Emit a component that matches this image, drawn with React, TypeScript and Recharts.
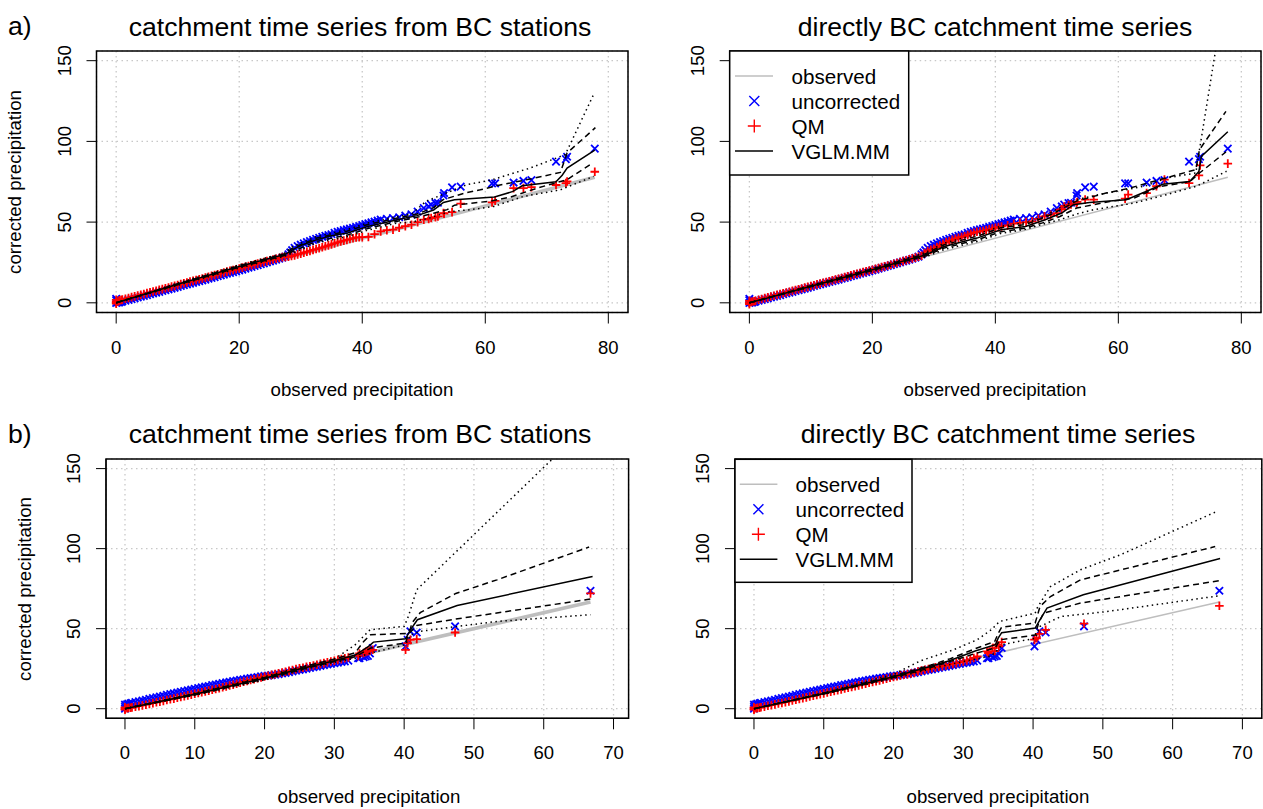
import React from "react";
import {
  ComposedChart,
  Line,
  Scatter,
  XAxis,
  YAxis,
  CartesianGrid,
  ReferenceArea,
} from "recharts";

type Pt = [number, number];

// ---- row a: observed vs corrected, x = observed quantile ----
const observedA: Pt[] = [[0, 0], [77.8, 77.8]];

const uncorrectedA: Pt[] = [
  [0, 0], [0, 1.5], [0, 2.5], [0.3, 0.2], [0.5, 0.3], [0.8, 0.6], [1, 0.8], [1.5, 1.3], [2, 1.8], [2.5, 2.3],
  [3, 2.8], [3.5, 3.3], [4, 3.8], [4.5, 4.3], [5, 4.8], [5.5, 5.3], [6, 5.8], [6.5, 6.3], [7, 6.8], [7.5, 7.3],
  [8, 7.8], [8.5, 8.3], [9, 8.8], [9.5, 9.3], [10, 9.8], [10.5, 10.4], [11, 10.9], [11.5, 11.4], [12, 11.9],
  [12.5, 12.4], [13, 12.9], [13.5, 13.4], [14, 13.9], [14.5, 14.4], [15, 14.9], [15.5, 15.4], [16, 15.9],
  [16.5, 16.5], [17, 17], [17.5, 17.5], [18, 18], [18.5, 18.5], [19, 19], [19.5, 19.5], [20, 20], [20.5, 20.6],
  [21, 21.1], [21.5, 21.7], [22, 22.2], [22.5, 22.8], [23, 23.3], [23.5, 23.9], [24, 24.4], [24.5, 25],
  [25, 25.6], [25.5, 26.1], [26, 26.7], [26.5, 27.3], [27, 27.9], [27.5, 28.6], [28, 30], [28.3, 31.2],
  [28.6, 32.6], [29, 34], [29.5, 35.2], [30, 36], [30.5, 36.8], [31, 37.6], [31.5, 38.3], [32, 39],
  [32.5, 39.6], [33, 40.2], [33.5, 40.9], [34, 41.5], [34.5, 42], [35, 42.5], [35.5, 43.3], [36, 44],
  [36.5, 44.5], [37, 45], [37.5, 45.5], [38, 46], [38.5, 46.5], [39, 47], [39.5, 47.6], [40, 48.2],
  [40.5, 48.8], [41, 49.3], [41.5, 49.8], [42, 50.3], [42.5, 51], [43, 51.5], [44, 52], [45, 52.5], [46, 53],
  [47, 54], [48, 54.8], [49, 56.5], [50, 58.7], [50.8, 59.7], [51.2, 60.8], [51.9, 61.8], [52.3, 62],
  [53.2, 66.5], [53.3, 68], [54.6, 71.5], [56, 72], [61.1, 74], [61.6, 74], [64.6, 74.5], [66.2, 75.5],
  [67.5, 76], [71.5, 87.5], [73.1, 89], [73.3, 90.5], [77.8, 95.5],
];

const qmStationsA: Pt[] = [
  [0, 0.5], [0, 1.8], [0, -0.5], [0.3, 0.8], [0.5, 1.5], [0.8, 1.7], [1, 2], [1.5, 2.5], [2, 3], [2.5, 3.5],
  [3, 4], [3.5, 4.5], [4, 5], [4.5, 5.5], [5, 6], [5.5, 6.5], [6, 7], [6.5, 7.5], [7, 8], [7.5, 8.5], [8, 9],
  [8.5, 9.5], [9, 10], [9.5, 10.5], [10, 11], [10.5, 11.6], [11, 12.1], [11.5, 12.6], [12, 13.1], [12.5, 13.6],
  [13, 14.1], [13.5, 14.6], [14, 15.1], [14.5, 15.6], [15, 16.1], [15.5, 16.7], [16, 17.2], [16.5, 17.7],
  [17, 18.2], [17.5, 18.8], [18, 19.3], [18.5, 19.8], [19, 20.3], [19.5, 20.8], [20, 21.3], [20.5, 21.8],
  [21, 22.3], [21.5, 22.8], [22, 23.3], [22.5, 23.8], [23, 24.3], [23.5, 24.8], [24, 25.3], [24.5, 25.8],
  [25, 26.3], [25.5, 26.8], [26, 27.3], [26.5, 27.8], [27, 28.3], [27.5, 28.4], [28, 28.5], [28.5, 29],
  [29, 29.4], [29.5, 30], [30, 30.5], [30.5, 31], [31, 31.6], [31.5, 32.2], [32, 32.8], [32.5, 33.3],
  [33, 33.8], [33.5, 34.4], [34, 35], [34.5, 35.6], [35, 36.2], [35.5, 36.8], [36, 37.5], [36.5, 38],
  [37, 38.5], [37.5, 39], [38, 39.5], [38.5, 40], [39, 40.5], [39.5, 40.6], [40, 40.7], [41, 40.8],
  [42, 42.5], [43, 44.2], [44, 45], [45, 45.3], [46, 46.5], [47, 47.5], [48, 48.4], [49, 50], [50, 51.5],
  [50.8, 52], [51.2, 52.5], [51.9, 53], [52.3, 53.5], [53.2, 55.6], [53.3, 55.2], [54.6, 56.2], [56, 61.4],
  [61.1, 62.2], [61.6, 63.2], [64.6, 71], [66.2, 71.1], [67.5, 71.7], [71.5, 73], [73.1, 74.2], [73.3, 75.2],
  [77.8, 81.2],
];

const qmDirectA: Pt[] = [
  [0, 0], [0, 1.2], [0, -0.8], [0.3, 0.5], [0.5, 0.8], [0.8, 1], [1, 1.3], [1.5, 1.9], [2, 2.4], [2.5, 2.9],
  [3, 3.4], [3.5, 3.9], [4, 4.4], [4.5, 4.9], [5, 5.4], [5.5, 5.9], [6, 6.4], [6.5, 6.9], [7, 7.4], [7.5, 7.9],
  [8, 8.4], [8.5, 8.9], [9, 9.4], [9.5, 9.9], [10, 10.4], [10.5, 10.9], [11, 11.4], [11.5, 11.9], [12, 12.4],
  [12.5, 12.9], [13, 13.4], [13.5, 13.9], [14, 14.4], [14.5, 14.9], [15, 15.4], [15.5, 16], [16, 16.5],
  [16.5, 17], [17, 17.5], [17.5, 18], [18, 18.5], [18.5, 19], [19, 19.5], [19.5, 20], [20, 20.5], [20.5, 21],
  [21, 21.5], [21.5, 22.1], [22, 22.6], [22.5, 23.1], [23, 23.6], [23.5, 24.2], [24, 24.7], [24.5, 25.3],
  [25, 25.8], [25.5, 26.4], [26, 26.9], [26.5, 27.5], [27, 28], [27.5, 28.6], [28, 29.2], [28.5, 30.8],
  [29, 32], [29.5, 32.8], [30, 33.5], [30.5, 34.5], [31, 35.5], [31.5, 36.5], [32, 37.5], [32.5, 38.3],
  [33, 39], [33.5, 39.7], [34, 40.3], [34.5, 40.8], [35, 41.2], [35.5, 42], [36, 42.8], [36.5, 43.4],
  [37, 44], [37.5, 44.2], [38, 44.5], [38.5, 45], [39, 45.5], [39.5, 46], [40, 46.5], [40.5, 46.9],
  [41, 47.3], [42, 48], [43, 49], [44, 49.5], [45, 50], [46, 50.5], [47, 52], [48, 53.6], [49, 54.5],
  [50, 55.6], [50.8, 58], [51.2, 59.7], [51.9, 60.5], [52.3, 61], [53.2, 61.8], [53.3, 62.5], [54.6, 63.9],
  [56, 63.9], [61.1, 64.5], [61.6, 67], [64.6, 68], [66.2, 72.2], [67.5, 76.3], [71.5, 74.2], [73.1, 78.9],
  [73.3, 85.1], [77.8, 86.2],
];

// VGLM.MM median and bands, "from BC stations"
const medStationsA: Pt[] = [
  [0, 0], [5, 5.8], [10, 11.5], [15, 17], [20, 22.5], [25, 27.6], [27.5, 30], [28.5, 32.5], [30, 35.5],
  [32.5, 39], [35, 41.5], [37.6, 43.2], [40.9, 47.3], [45.7, 51.5], [48.9, 54], [51.6, 57.5], [53.2, 62.2],
  [55, 63.8], [61.5, 65.5], [64.5, 69], [66, 72.5], [71.5, 75], [72.5, 79], [73.3, 83.5], [77.8, 94.6],
];
const q75StationsA: Pt[] = [
  [0, 0], [10, 11.8], [20, 23], [27.5, 30.5], [28.5, 33.5], [32.5, 40], [37.6, 44.5], [40.9, 48.5],
  [45.7, 52.5], [48.9, 55], [51.6, 59], [53.2, 64], [56.7, 68], [59.2, 70], [61.8, 72.5], [67.3, 76.7],
  [72.2, 80.8], [73.3, 92.8], [77.9, 108.5],
];
const q25StationsA: Pt[] = [
  [0, 0], [10, 11.2], [20, 22], [27.5, 29.5], [28.5, 31.5], [32.5, 38], [37.6, 42], [40.9, 46], [45.7, 50.5],
  [48.9, 53], [51.6, 55.5], [53.8, 57.7], [55, 60.5], [60.8, 63], [64.1, 65.5], [68.4, 71], [73.3, 76.3],
  [77.3, 86.3],
];
const q95StationsA: Pt[] = [
  [0, 0], [10, 12.2], [20, 23.5], [27.5, 31], [28.5, 34.5], [32.5, 41], [37.6, 45.5], [40.9, 49.5],
  [45.7, 53.5], [48, 55], [50.4, 63], [52.7, 66.5], [57, 73.2], [60.9, 76], [67.3, 83.5], [73, 91.8],
  [77.6, 129],
];
const q05StationsA: Pt[] = [
  [0, 0], [10, 10.8], [20, 21.5], [27.5, 29], [28.5, 30.5], [32.5, 37], [37.6, 41], [40.9, 45], [45.7, 49.5],
  [48, 50], [50.9, 52.5], [54.2, 56.5], [57.6, 57.7], [61.4, 59.7], [66.2, 65.9], [72.2, 70], [77.6, 78.3],
];

// VGLM.MM, "directly BC"
const medDirectA: Pt[] = [
  [0, 0], [10, 10.3], [20, 20.5], [27, 28], [28.5, 29.5], [31.7, 34.9], [37, 40.1], [40.9, 45.3], [44.9, 47.3],
  [48.1, 51.5], [50.8, 55.6], [52.7, 60.8], [55.3, 62.2], [61.3, 63.9], [64.5, 69], [67.2, 73.4], [71.6, 75.2],
  [73.1, 81.4], [73.5, 90.7], [77.8, 106],
];
const q75DirectA: Pt[] = [
  [0, 0], [10, 10.6], [20, 21], [27, 28.5], [28.5, 30.2], [31.7, 36], [37, 41.2], [40.9, 46.5], [44.9, 48.5],
  [48.1, 53], [50.5, 57.5], [53.2, 63], [58, 68], [61.9, 71.1], [66.7, 76.3], [72.6, 82.5], [73.2, 94.9],
  [77.5, 118.6],
];
const q25DirectA: Pt[] = [
  [0, 0], [10, 10], [20, 20], [27, 27.5], [28.5, 28.8], [31.7, 34], [37, 39], [40.9, 44], [44.9, 46.3],
  [48.1, 50], [50.5, 53.5], [53.2, 58.7], [58.6, 62.8], [62.6, 64.9], [66.7, 72], [71.6, 75], [73.2, 80.4],
  [77.5, 93.5],
];
const q95DirectA: Pt[] = [
  [0, 0], [10, 10.9], [20, 21.5], [27, 29.2], [28.5, 31], [31.7, 37], [37, 42.5], [40.9, 47.5], [44.9, 49.5],
  [48, 53.5], [50, 58], [53.2, 63.9], [57.5, 67.6], [61.9, 70.5], [64.5, 72.5], [67.8, 77.3], [72.6, 80.4],
  [73.2, 94.9], [75.7, 153.7], [77.8, 203],
];
const q05DirectA: Pt[] = [
  [0, 0], [10, 9.7], [20, 19.5], [27, 27], [28.5, 28.2], [31.7, 33], [37, 38], [40.9, 43], [44.9, 45.5],
  [48, 49], [50.5, 51.5], [53.2, 55], [56, 57.7], [62.6, 61.8], [67.8, 67], [72.7, 72.2], [77.6, 81.5],
];

// ---- row b ----
const observedB: Pt[] = [[0, 0], [66.7, 66.7]];

const uncorrectedB: Pt[] = [
  [0, 0], [0, 2.5], [0, 1.2], [0.3, 2.8], [0.5, 3], [0.8, 3.3], [1, 3.6], [1.5, 4.1], [2, 4.6], [2.5, 5.1],
  [3, 5.6], [3.5, 6.1], [4, 6.6], [4.5, 7.1], [5, 7.6], [5.5, 8.1], [6, 8.6], [6.5, 9.1], [7, 9.6], [7.5, 10.1],
  [8, 10.6], [8.5, 11], [9, 11.5], [9.5, 12], [10, 12.4], [10.5, 12.9], [11, 13.3], [11.5, 13.8], [12, 14.2],
  [12.5, 14.7], [13, 15.1], [13.5, 15.5], [14, 16], [14.5, 16.4], [15, 16.8], [15.5, 17.2], [16, 17.6],
  [16.5, 18], [17, 18.4], [17.5, 18.8], [18, 19.2], [18.5, 19.5], [19, 19.8], [19.5, 20.2], [20, 20.5],
  [20.5, 20.7], [21, 21], [21.5, 21.3], [22, 21.6], [22.5, 22], [23, 22.4], [23.5, 22.8], [24, 23.3],
  [24.5, 23.8], [25, 24.2], [25.5, 24.6], [26, 25], [26.5, 25.5], [27, 25.9], [27.5, 26.3], [28, 26.8],
  [28.5, 27.2], [29, 27.6], [29.5, 28], [30, 28.4], [30.5, 28.8], [31, 29.2], [31.5, 29.6], [32, 30],
  [33.4, 31.5], [33.6, 31.6], [34.2, 32.2], [34.5, 32.6], [34.8, 33], [35.1, 34.5], [35.5, 37.9],
  [40.2, 38.9], [40.5, 43], [40.9, 48.3], [41.8, 47.6], [47.3, 51.4], [66.7, 73.7],
];

const qmStationsB: Pt[] = [
  [0, 0], [0, 0.8], [0, -0.6], [0.3, 0.3], [0.5, 0.5], [0.8, 0.6], [1, 0.8], [1.5, 1.2], [2, 1.6], [2.5, 2.1],
  [3, 2.5], [3.5, 3], [4, 3.5], [4.5, 4], [5, 4.4], [5.5, 4.9], [6, 5.4], [6.5, 5.9], [7, 6.3], [7.5, 6.8],
  [8, 7.3], [8.5, 7.8], [9, 8.3], [9.5, 8.8], [10, 9.3], [10.5, 9.8], [11, 10.3], [11.5, 10.8], [12, 11.3],
  [12.5, 11.8], [13, 12.3], [13.5, 12.8], [14, 13.4], [14.5, 13.9], [15, 14.5], [15.5, 15], [16, 15.6],
  [16.5, 16.2], [17, 16.8], [17.5, 17.3], [18, 17.9], [18.5, 18.4], [19, 19], [19.5, 19.5], [20, 20.1],
  [20.5, 20.6], [21, 21.1], [21.5, 21.6], [22, 22.1], [22.5, 22.6], [23, 23.1], [23.5, 23.6], [24, 24.2],
  [24.5, 24.7], [25, 25.2], [25.5, 25.6], [26, 26.1], [26.5, 26.5], [27, 27], [27.5, 27.5], [28, 28],
  [28.5, 28.5], [29, 29], [29.5, 29.5], [30, 30], [30.5, 30.5], [31, 31], [31.5, 31.5], [32, 32], [33.4, 33],
  [33.6, 34.5], [34.2, 34.8], [34.5, 35.5], [34.8, 35.9], [35.1, 36.2], [35.5, 36.8], [40.2, 36.8],
  [40.5, 41], [40.9, 43], [41.8, 43.5], [47.3, 47.6], [66.7, 72],
];

const qmDirectB: Pt[] = [
  [0, 0], [0, 0.8], [0, -0.6], [0.3, 0.3], [0.5, 0.5], [0.8, 0.7], [1, 0.9], [1.5, 1.3], [2, 1.8], [2.5, 2.2],
  [3, 2.7], [3.5, 3.2], [4, 3.6], [4.5, 4.1], [5, 4.6], [5.5, 5.1], [6, 5.6], [6.5, 6.1], [7, 6.6], [7.5, 7.1],
  [8, 7.6], [8.5, 8.1], [9, 8.6], [9.5, 9.1], [10, 9.6], [10.5, 10.1], [11, 10.6], [11.5, 11.1], [12, 11.6],
  [12.5, 12.1], [13, 12.6], [13.5, 13.1], [14, 13.6], [14.5, 14.1], [15, 14.6], [15.5, 15.1], [16, 15.6],
  [16.5, 16.2], [17, 16.7], [17.5, 17.2], [18, 17.7], [18.5, 18.3], [19, 18.8], [19.5, 19.3], [20, 19.8],
  [20.5, 20.3], [21, 20.8], [21.5, 21.2], [22, 21.6], [22.5, 22], [23, 22.5], [23.5, 23.2], [24, 23.8],
  [24.5, 24.3], [25, 24.8], [25.5, 25.3], [26, 25.8], [26.5, 26.2], [27, 26.6], [27.5, 27], [28, 27.5],
  [28.5, 28], [29, 28.5], [29.5, 29], [30, 29.5], [30.5, 30.1], [31, 30.8], [31.5, 31.7], [32, 32.6],
  [33.4, 35.8], [33.6, 34.8], [34.2, 37.9], [34.5, 36], [34.8, 40], [35.1, 39], [35.5, 41.6], [40.2, 43.1],
  [40.5, 44], [40.9, 46.8], [41.8, 49.3], [47.3, 53.1], [66.7, 64.3],
];

const medStationsB: Pt[] = [
  [0, 0], [10, 9], [20, 19], [25, 24.8], [30, 30], [33, 33.5], [34.9, 38.9], [35.6, 41.6], [40.2, 43.7],
  [40.9, 49.3], [41.9, 55.6], [47.6, 64.5], [67, 82.6],
];
const q75StationsB: Pt[] = [
  [0, 0], [10, 9.4], [20, 19.5], [25, 25.5], [30, 31], [33, 35], [34.2, 42], [35.2, 46.2], [40.2, 47],
  [40.9, 50], [41.1, 53.5], [42.3, 60], [47.4, 72], [53.3, 80.5], [66.5, 101],
];
const q25StationsB: Pt[] = [
  [0, 0], [10, 8.6], [20, 18.5], [25, 24.2], [30, 29.5], [33, 32.5], [35.2, 37.9], [40.2, 41], [40.6, 46.5],
  [41.8, 52], [47.4, 56], [66.7, 68.5],
];
const q95StationsB: Pt[] = [
  [0, 0], [10, 9.8], [20, 20], [25, 26], [30, 31], [33, 40], [35.1, 49.3], [40, 51.4], [40.6, 57.6],
  [41.8, 74.3], [61.1, 155.4], [66.7, 178.5],
];
const q05StationsB: Pt[] = [
  [0, 0], [10, 8.4], [20, 18], [25, 23.8], [30, 29], [33, 31.5], [35.2, 34.8], [40.2, 40], [40.9, 46],
  [42.3, 48.3], [47.6, 51.4], [53.3, 54.5], [66.7, 58.7],
];

const medDirectB: Pt[] = [
  [0, 0], [10, 9.5], [20, 20], [25, 26], [28, 30], [31.7, 36], [34.6, 40], [35, 44.1], [35.5, 47.5],
  [40.3, 50.4], [41, 55.6], [42, 62.9], [47.2, 71.2], [66.8, 93.8],
];
const q75DirectB: Pt[] = [
  [0, 0], [10, 9.8], [20, 20.5], [25, 26.8], [28, 31], [31.7, 37.5], [34.5, 42], [35, 47], [35.5, 51],
  [40.3, 53.5], [41, 63.9], [42.5, 70.1], [46.8, 80.5], [66.1, 101.3],
];
const q25DirectB: Pt[] = [
  [0, 0], [10, 9.2], [20, 19.5], [25, 25.2], [28, 29.3], [31.7, 34.5], [34.6, 38], [35.2, 43], [40.3, 46],
  [40.8, 53.5], [41.5, 59.7], [46.8, 66], [66.8, 80.1],
];
const q95DirectB: Pt[] = [
  [0, 0], [10, 10], [20, 21.5], [23.9, 30], [28.6, 36.8], [32, 43.1], [34, 49.3], [35.2, 54.5], [40.3, 59.7],
  [40.6, 63], [41.3, 68], [42.5, 76.3], [46.8, 86.8], [52.5, 96.1], [66.1, 122.8],
];
const q05DirectB: Pt[] = [
  [0, 0], [10, 9], [20, 19], [25, 24.5], [30, 29.5], [34, 33], [35, 37], [35.5, 40], [40.3, 44], [41, 51.4],
  [44, 57.6], [50.6, 60.7], [66.6, 70.5],
];

const ticksA = [0, 20, 40, 60, 80];
const ticksB = [0, 10, 20, 30, 40, 50, 60, 70];
const yTicks = [0, 50, 100, 150];
const legendLabels = ["observed", "uncorrected", "QM", "VGLM.MM"];

const FONT = "'Liberation Sans', Arial, Helvetica, sans-serif";
const Y_DOMAIN: [number, number] = [-6, 156];
const BLUE = "#0000ff";
const RED = "#ff0000";

const toPts = (a: Pt[]) => a.map(([x, y]) => ({ x, y }));

function XMark(props: any) {
  const { cx, cy } = props;
  if (cx == null || cy == null) return <g />;
  const r = 3.7;
  return (
    <path
      d={`M${cx - r},${cy - r}L${cx + r},${cy + r}M${cx - r},${cy + r}L${cx + r},${cy - r}`}
      stroke={BLUE}
      strokeWidth={1.8}
      fill="none"
    />
  );
}

function PlusMark(props: any) {
  const { cx, cy } = props;
  if (cx == null || cy == null) return <g />;
  const r = 4.3;
  return (
    <path
      d={`M${cx - r},${cy}L${cx + r},${cy}M${cx},${cy - r}L${cx},${cy + r}`}
      stroke={RED}
      strokeWidth={1.8}
      fill="none"
    />
  );
}

function YTick(props: any) {
  const { x, y, payload } = props;
  return (
    <text x={x} y={y} transform={`rotate(-90 ${x} ${y})`} textAnchor="middle" fontSize={18.5} fill="#000">
      {payload.value}
    </text>
  );
}

interface PanelProps {
  left: number;
  top: number;
  width: number;
  height: number;
  plotLeft: number;
  plotTop: number;
  plotRight: number;
  plotBottom: number;
  xDomain: [number, number];
  xTicks: number[];
  observed: Pt[];
  obsWidth: number;
  uncorrected: Pt[];
  qm: Pt[];
  med: Pt[];
  q25: Pt[];
  q75: Pt[];
  q05: Pt[];
  q95: Pt[];
}

function Panel(p: PanelProps) {
  const band = (d: Pt[], dash: string, key: string) => (
    <Line
      key={key}
      data={toPts(d)}
      dataKey="y"
      type="linear"
      stroke="#000"
      strokeWidth={1.5}
      strokeDasharray={dash}
      dot={false}
      activeDot={false}
      isAnimationActive={false}
      zIndex={700}
    />
  );
  return (
    <div style={{ position: "absolute", left: p.left, top: p.top }}>
      <ComposedChart
        width={p.width}
        height={p.height}
        margin={{ top: p.plotTop, right: p.width - p.plotRight, bottom: 0, left: 0 }}
      >
        <CartesianGrid stroke="#c8c8c8" strokeDasharray="1.5 3.5" strokeWidth={1.3} />
        <XAxis
          type="number"
          dataKey="x"
          domain={p.xDomain}
          ticks={p.xTicks}
          interval={0}
          allowDataOverflow
          height={p.height - p.plotBottom}
          tickSize={11}
          tickMargin={17}
          stroke="#000"
          tick={{ fontSize: 18.5, fill: "#000" }}
        />
        <YAxis
          type="number"
          dataKey="y"
          domain={Y_DOMAIN}
          ticks={yTicks}
          interval={0}
          allowDataOverflow
          width={p.plotLeft}
          tickSize={10}
          tickMargin={15.8}
          stroke="#000"
          tick={YTick}
        />
        <Line
          data={toPts(p.observed)}
          dataKey="y"
          type="linear"
          stroke="#bebebe"
          strokeWidth={p.obsWidth}
          dot={false}
          activeDot={false}
          isAnimationActive={false}
        />
        <Scatter data={toPts(p.uncorrected)} dataKey="y" shape={XMark} isAnimationActive={false} />
        <Scatter data={toPts(p.qm)} dataKey="y" shape={PlusMark} isAnimationActive={false} />
        {band(p.q05, "1.5 3.5", "q05")}
        {band(p.q95, "1.5 3.5", "q95")}
        {band(p.q25, "6 4", "q25")}
        {band(p.q75, "6 4", "q75")}
        {band(p.med, "", "med")}
        <ReferenceArea
          x1={p.xDomain[0]}
          x2={p.xDomain[1]}
          y1={Y_DOMAIN[0]}
          y2={Y_DOMAIN[1]}
          fill="none"
          fillOpacity={0}
          stroke="#000"
          strokeWidth={1.5}
          ifOverflow="visible"
        />
      </ComposedChart>
    </div>
  );
}

function LegendBox({ x, y, w, h, lx1, lx2, mx, tx }: any) {
  const rows = [25, 50, 75, 100];
  return (
    <g>
      <rect x={x} y={y} width={w} height={h} fill="#fff" stroke="#000" strokeWidth={1.5} />
      <line x1={lx1} x2={lx2} y1={y + rows[0]} y2={y + rows[0]} stroke="#bebebe" strokeWidth={1.5} />
      <path
        d={`M${mx - 5},${y + rows[1] - 5}L${mx + 5},${y + rows[1] + 5}M${mx - 5},${y + rows[1] + 5}L${mx + 5},${y + rows[1] - 5}`}
        stroke={BLUE}
        strokeWidth={1.4}
      />
      <path
        d={`M${mx - 6.5},${y + rows[2]}L${mx + 6.5},${y + rows[2]}M${mx},${y + rows[2] - 6.5}L${mx},${y + rows[2] + 6.5}`}
        stroke={RED}
        strokeWidth={1.4}
      />
      <line x1={lx1} x2={lx2} y1={y + rows[3]} y2={y + rows[3]} stroke="#000" strokeWidth={1.6} />
      {legendLabels.map((t, i) => (
        <text key={t} x={tx} y={y + rows[i] + 7.5} fontSize={20.6} fill="#000">
          {t}
        </text>
      ))}
    </g>
  );
}

export default function App() {
  return (
    <div
      style={{
        position: "absolute",
        left: 0,
        top: 0,
        width: 1263,
        height: 809,
        background: "#fff",
        fontFamily: FONT,
        overflow: "hidden",
      }}
    >
      <Panel
        left={0}
        top={0}
        width={640}
        height={405}
        plotLeft={96.5}
        plotTop={51}
        plotRight={628}
        plotBottom={312.5}
        xDomain={[-3.2, 83.2]}
        xTicks={ticksA}
        observed={observedA}
        obsWidth={3.5}
        uncorrected={uncorrectedA}
        qm={qmStationsA}
        med={medStationsA}
        q25={q25StationsA}
        q75={q75StationsA}
        q05={q05StationsA}
        q95={q95StationsA}
      />
      <Panel
        left={630}
        top={0}
        width={633}
        height={405}
        plotLeft={99.7}
        plotTop={51}
        plotRight={631}
        plotBottom={312.5}
        xDomain={[-3.2, 83.2]}
        xTicks={ticksA}
        observed={observedA}
        obsWidth={1.5}
        uncorrected={uncorrectedA}
        qm={qmDirectA}
        med={medDirectA}
        q25={q25DirectA}
        q75={q75DirectA}
        q05={q05DirectA}
        q95={q95DirectA}
      />
      <Panel
        left={0}
        top={405}
        width={640}
        height={404}
        plotLeft={106}
        plotTop={54}
        plotRight={628.6}
        plotBottom={313.3}
        xDomain={[-2.72, 72.16]}
        xTicks={ticksB}
        observed={observedB}
        obsWidth={3.5}
        uncorrected={uncorrectedB}
        qm={qmStationsB}
        med={medStationsB}
        q25={q25StationsB}
        q75={q75StationsB}
        q05={q05StationsB}
        q95={q95StationsB}
      />
      <Panel
        left={630}
        top={405}
        width={633}
        height={404}
        plotLeft={105}
        plotTop={54}
        plotRight={631.8}
        plotBottom={313.3}
        xDomain={[-2.72, 72.78]}
        xTicks={ticksB}
        observed={observedB}
        obsWidth={1.5}
        uncorrected={uncorrectedB}
        qm={qmDirectB}
        med={medDirectB}
        q25={q25DirectB}
        q75={q75DirectB}
        q05={q05DirectB}
        q95={q95DirectB}
      />
      <svg
        width={1263}
        height={809}
        style={{ position: "absolute", left: 0, top: 0, pointerEvents: "none" }}
        fontFamily={FONT}
      >
        <text x={8} y={35} fontSize={26.6} fill="#000">a)</text>
        <text x={8} y={443} fontSize={26.6} fill="#000">b)</text>
        <text x={360} y={36} fontSize={26.6} textAnchor="middle" fill="#000">
          catchment time series from BC stations
        </text>
        <text x={995} y={36} fontSize={26.6} textAnchor="middle" fill="#000">
          directly BC catchment time series
        </text>
        <text x={360} y={443} fontSize={26.6} textAnchor="middle" fill="#000">
          catchment time series from BC stations
        </text>
        <text x={998} y={443} fontSize={26.6} textAnchor="middle" fill="#000">
          directly BC catchment time series
        </text>
        <text x={362} y={396} fontSize={18.7} textAnchor="middle" fill="#000">observed precipitation</text>
        <text x={995} y={396} fontSize={18.7} textAnchor="middle" fill="#000">observed precipitation</text>
        <text x={369} y={803} fontSize={18.7} textAnchor="middle" fill="#000">observed precipitation</text>
        <text x={998} y={803} fontSize={18.7} textAnchor="middle" fill="#000">observed precipitation</text>
        <text x={21.4} y={182} fontSize={18.7} textAnchor="middle" fill="#000" transform="rotate(-90 21.4 182)">
          corrected precipitation
        </text>
        <text x={30.8} y={589} fontSize={18.7} textAnchor="middle" fill="#000" transform="rotate(-90 30.8 589)">
          corrected precipitation
        </text>
        <LegendBox x={729.7} y={51} w={179} h={124} lx1={735} lx2={773} mx={754.3} tx={791.5} />
        <LegendBox x={735} y={459.3} w={177} h={123} lx1={739.8} lx2={777.4} mx={758.4} tx={795.5} />
      </svg>
    </div>
  );
}
